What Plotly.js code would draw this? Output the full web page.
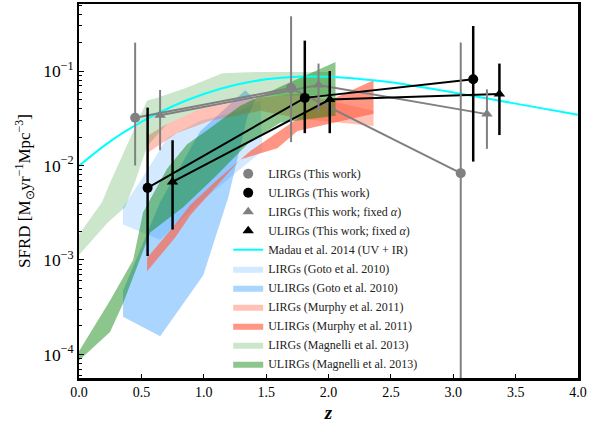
<!DOCTYPE html>
<html>
<head>
<meta charset="utf-8">
<script src="https://cdn.plot.ly/plotly-3.0.1.min.js"></script>
<style>html,body{margin:0;padding:0;background:#fff;}#chart{width:590px;height:423px;}</style>
</head>
<body>
<div id="chart"></div>
<script>
// ---- This work: measured points (value, upper bound, lower bound) ----
const lirgZ = [0.45, 1.70, 3.06];
const lirgY = [0.032, 0.066, 0.0083];
const lirgHi = [0.20, 0.38, 0.20];
const lirgLo = [0.010, 0.0177, 0.000001];

const ulirgZ = [0.55, 1.81, 3.16];
const ulirgY = [0.0058, 0.052, 0.082];
const ulirgHi = [0.041, 0.21, 0.30];
const ulirgLo = [0.0011, 0.022, 0.011];

const lirgFixZ = [0.65, 1.92, 3.27];
const lirgFixY = [0.034, 0.071, 0.035];
const lirgFixHi = [0.063, 0.12, 0.064];
const lirgFixLo = [0.0145, 0.036, 0.015];

const ulirgFixZ = [0.75, 2.01, 3.37];
const ulirgFixY = [0.0067, 0.050, 0.057];
const ulirgFixHi = [0.0185, 0.10, 0.12];
const ulirgFixLo = [0.0021, 0.022, 0.021];

// ---- Madau & Dickinson 2014 curve ----
const madauZ = [0, 0.25, 0.5, 0.75, 1.0, 1.25, 1.5, 1.75, 2.0, 2.25, 2.5, 3.0, 3.5, 4.0];
const madauY = [0.0099, 0.018, 0.0289, 0.0424, 0.0572, 0.0712, 0.0818, 0.0872, 0.0871, 0.0825, 0.0762, 0.0593, 0.0452, 0.0345];

// ---- Literature regions (closed polygons: z, SFRD) ----
const gotoLirgZ = [0.353, 0.514, 0.707, 0.972, 1.293, 1.454, 1.470, 0.972, 0.651, 0.353];
const gotoLirgY = [0.00362, 0.0076, 0.0195, 0.0297, 0.038, 0.0488, 0.0142, 0.0041, 0.00164, 0.00238];

const gotoUlirgZ = [0.353, 0.651, 0.996, 1.197, 1.35, 1.414, 1.333, 0.972, 0.651, 0.353];
const gotoUlirgY = [0.00025, 0.000156, 0.00069, 0.0046, 0.033, 0.049, 0.0625, 0.023, 0.0041, 0.000475];

const murphyLirgZ = [0.546, 0.707, 0.972, 1.454, 1.775, 2.361, 2.361, 1.775, 1.454, 1.052, 0.787, 0.546];
const murphyLirgY = [0.0205, 0.0276, 0.040, 0.0525, 0.058, 0.038, 0.0262, 0.0313, 0.038, 0.0297, 0.0221, 0.01345];

const murphyUlirgZ = [0.546, 0.771, 0.892, 1.092, 1.373, 1.639, 1.880, 2.361, 2.361, 1.751, 1.590, 1.293, 0.988, 0.892, 0.771, 0.546];
const murphyUlirgY = [0.00105, 0.00238, 0.00381, 0.00673, 0.0142, 0.025, 0.041, 0.080, 0.0353, 0.0232, 0.0152, 0.0116, 0.0041, 0.00297, 0.00173, 0.00076];

const magLirgZ = [0, 0.185, 0.249, 0.353, 0.546, 0.610, 0.851, 1.149, 1.414, 2.008, 2.008, 1.454, 0.972, 0.707, 0.546, 0.450, 0.369, 0.233, 0];
const magLirgY = [0.00186, 0.0041, 0.00656, 0.0131, 0.0488, 0.0513, 0.0656, 0.095, 0.0975, 0.0975, 0.0552, 0.0552, 0.040, 0.0276, 0.016, 0.00673, 0.00362, 0.0025, 0.00113];

const magUlirgZ = [0, 0.249, 0.434, 0.514, 0.707, 0.867, 1.052, 1.293, 1.639, 2.056, 2.056, 1.614, 1.373, 1.092, 0.835, 0.570, 0.353, 0.249, 0];
const magUlirgY = [0.000108, 0.000372, 0.0010, 0.0032, 0.0093, 0.0168, 0.025, 0.043, 0.0706, 0.125, 0.0337, 0.0283, 0.0181, 0.0076, 0.00362, 0.00195, 0.000345, 0.000173, 0.000086];

const FONT = 'Liberation Serif, Times New Roman, serif';
const GRAY = '#808080';

function region(name, z, y, color, rank) {
  return {type:'scatter', mode:'lines', x:z, y:y, fill:'toself', fillcolor:color,
          line:{width:0, color:color}, name:name, legendrank:rank, hoverinfo:'skip'};
}
function pts(name, z, y, hi, lo, color, symbol, rank, thick) {
  return {type:'scatter', mode:'markers', x:z, y:y, name:name, legendrank:rank,
    marker:{color:color, symbol:symbol, size:10, line:{width:0}},
    error_y:{type:'data', symmetric:false,
      array:y.map((v,i)=>hi[i]-v), arrayminus:y.map((v,i)=>v-lo[i]),
      color:color, thickness:thick, width:0}};
}
function conn(z, y, color) {
  return {type:'scatter', mode:'lines', x:z, y:y, showlegend:false,
          line:{color:color, width:2}, hoverinfo:'skip'};
}

const data = [
  region('LIRGs (Goto et al. 2010)', gotoLirgZ, gotoLirgY, 'rgba(30,144,255,0.2)', 6),
  region('ULIRGs (Goto et al. 2010)', gotoUlirgZ, gotoUlirgY, 'rgba(30,144,255,0.38)', 7),
  region('LIRGs (Murphy et al. 2011)', murphyLirgZ, murphyLirgY, 'rgba(255,99,71,0.4)', 8),
  region('ULIRGs (Murphy et al. 2011)', murphyUlirgZ, murphyUlirgY, 'rgba(255,99,71,0.68)', 9),
  region('LIRGs (Magnelli et al. 2013)', magLirgZ, magLirgY, 'rgba(0,128,0,0.2)', 10),
  region('ULIRGs (Magnelli et al. 2013)', magUlirgZ, magUlirgY, 'rgba(0,128,0,0.45)', 11),
  {type:'scatter', mode:'lines', x:madauZ, y:madauY, name:'Madau et al. 2014 (UV + IR)',
   line:{color:'#00ffff', width:2, shape:'spline'}, legendrank:5, hoverinfo:'skip'},
  conn(lirgZ, lirgY, GRAY),
  conn(lirgFixZ, lirgFixY, GRAY),
  conn(ulirgZ, ulirgY, '#000000'),
  conn(ulirgFixZ, ulirgFixY, '#000000'),
  pts('LIRGs (This work)', lirgZ, lirgY, lirgHi, lirgLo, GRAY, 'circle', 1, 2),
  pts('LIRGs (This work; fixed <i>α</i>)', lirgFixZ, lirgFixY, lirgFixHi, lirgFixLo, GRAY, 'triangle-up', 3, 2),
  pts('ULIRGs (This work)', ulirgZ, ulirgY, ulirgHi, ulirgLo, '#000000', 'circle', 2, 2.5),
  pts('ULIRGs (This work; fixed <i>α</i>)', ulirgFixZ, ulirgFixY, ulirgFixHi, ulirgFixLo, '#000000', 'triangle-up', 4, 2.5)
];

const layout = {
  width:590, height:423,
  margin:{l:79, r:12, t:4, b:45},
  paper_bgcolor:'#ffffff', plot_bgcolor:'#ffffff',
  font:{family:FONT, color:'#000'},
  showlegend:true,
  legend:{x:0.299, y:0.585, xanchor:'left', yanchor:'top', bgcolor:'rgba(0,0,0,0)',
          font:{family:FONT, size:12, color:'#222'}, borderwidth:0},
  xaxis:{range:[0,4], dtick:0.5, tickformat:'.1f', showgrid:false, zeroline:false,
         showline:true, linecolor:'#000', linewidth:2.5, mirror:true,
         ticks:'inside', ticklen:4, tickwidth:1, tickcolor:'#000',
         tickfont:{family:FONT, size:14},
         title:{text:'<b><i>z</i></b>', font:{family:FONT, size:19}, standoff:8}},
  yaxis:{type:'log', range:[-4.25,-0.29], dtick:1, exponentformat:'power', showgrid:false, zeroline:false,
         showline:true, linecolor:'#000', linewidth:2.5, mirror:true,
         ticks:'inside', ticklen:5, tickwidth:1, tickcolor:'#000',
         minor:{ticks:'inside', ticklen:3, tickwidth:1, tickcolor:'#000', dtick:'D1', showgrid:false},
         tickfont:{family:FONT, size:14},
         title:{text:'SFRD [M<sub>⊙</sub>yr<sup>−1</sup>Mpc<sup>−3</sup>]', font:{family:FONT, size:17}, standoff:8}}
};

Plotly.newPlot('chart', data, layout, {staticPlot:true, displayModeBar:false});
</script>
</body>
</html>
